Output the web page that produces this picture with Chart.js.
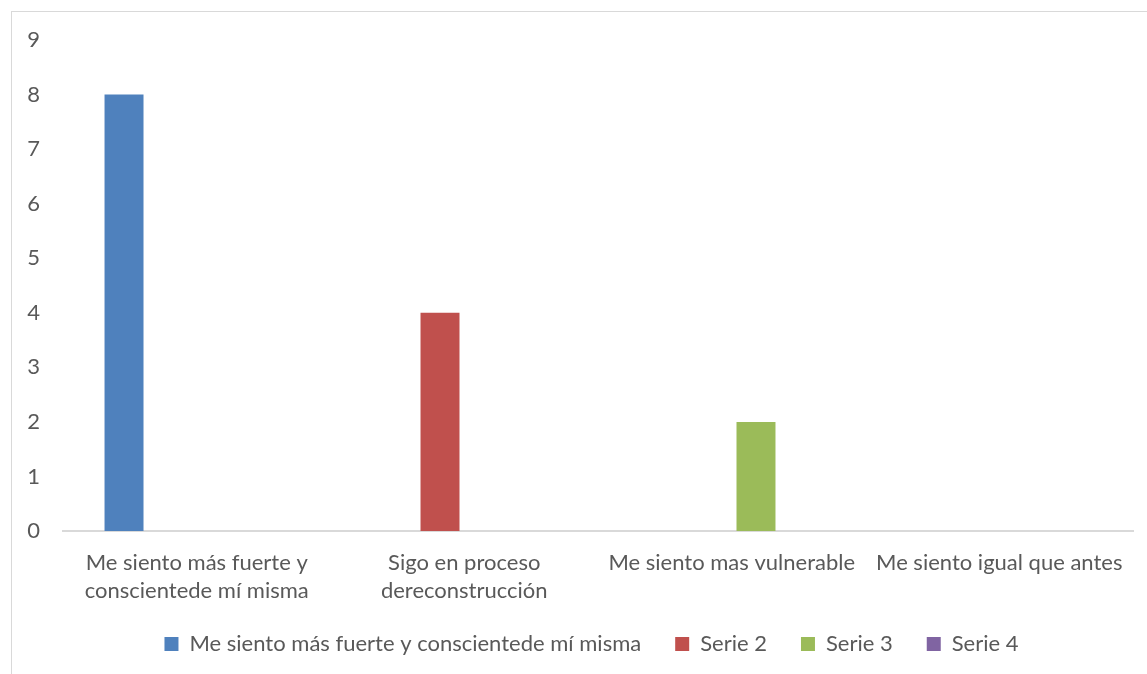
<!DOCTYPE html>
<html>
<head>
<meta charset="utf-8">
<title>Me siento</title>
<script src="https://cdn.jsdelivr.net/npm/chart.js@4.4.1/dist/chart.umd.min.js"></script>
<style>
  html, body { margin: 0; padding: 0; background: #fff; overflow: hidden; }
  #wrap { position: relative; width: 1147px; height: 674px; }
  #frame {
    position: absolute; left: 11px; top: 11px; width: 1150px; height: 680px;
    border-left: 1px solid #D9D9D9; border-top: 1px solid #D9D9D9;
  }
  canvas { position: absolute; left: 0; top: 0; }
</style>
</head>
<body>
<div id="wrap">
  <div id="frame"></div>
  <canvas id="chart" width="1147" height="674"></canvas>
</div>
<script>
const categories = [
  ['Me siento más fuerte y', 'conscientede mí misma'],
  ['Sigo en proceso', 'dereconstrucción'],
  'Me siento mas vulnerable',
  'Me siento igual que antes'
];
const seriesNames = ['Me siento más fuerte y conscientede mí misma', 'Serie 2', 'Serie 3', 'Serie 4'];
const serie1 = [8, 0, 0, 0];
const serie2 = [0, 4, 0, 0];
const serie3 = [0, 0, 2, 0];
const serie4 = [0, 0, 0, 0];
const colors = ['#4F81BD', '#C0504D', '#9BBB59', '#8064A2'];
const yTicks = [0, 1, 2, 3, 4, 5, 6, 7, 8, 9];

const FONT = 'Lato, "Open Sans", sans-serif';
const TEXT = '#595959';

const datasets = [serie1, serie2, serie3, serie4].map((values, i) => ({
  label: seriesNames[i],
  data: values,
  backgroundColor: colors[i],
  borderWidth: 0,
  categoryPercentage: 0.725,
  barPercentage: 0.804
}));

// nudge the legend a bit to the right of the canvas centre
const legendShift = {
  id: 'legendShift',
  afterLayout(chart) {
    if (chart.legend) chart.legend.left += 38;
  }
};

new Chart(document.getElementById('chart'), {
  type: 'bar',
  data: { labels: categories, datasets: datasets },
  plugins: [legendShift],
  options: {
    responsive: false,
    animation: false,
    events: [],
    layout: { padding: { left: 12, right: 14, top: 40, bottom: 9 } },
    scales: {
      x: {
        grid: { drawOnChartArea: false, drawTicks: false },
        border: { color: '#D9D9D9', width: 2 },
        afterFit: axis => { axis.height = 68; },
        ticks: {
          color: TEXT,
          font: { family: FONT, size: 22, lineHeight: 1.27 },
          padding: 18,
          maxRotation: 0,
          autoSkip: false
        }
      },
      y: {
        min: 0,
        max: 9,
        afterBuildTicks: axis => { axis.ticks = yTicks.map(v => ({ value: v })); },
        afterFit: axis => { axis.width = 51; },
        grid: { display: false, drawTicks: false },
        border: { display: false },
        ticks: {
          color: TEXT,
          font: { family: FONT, size: 22 },
          padding: 23
        }
      }
    },
    plugins: {
      tooltip: { enabled: false },
      legend: {
        position: 'bottom',
        labels: {
          color: TEXT,
          font: { family: FONT, size: 22 },
          boxWidth: 14,
          boxHeight: 14,
          padding: 34
        }
      }
    }
  }
});
</script>
</body>
</html>
